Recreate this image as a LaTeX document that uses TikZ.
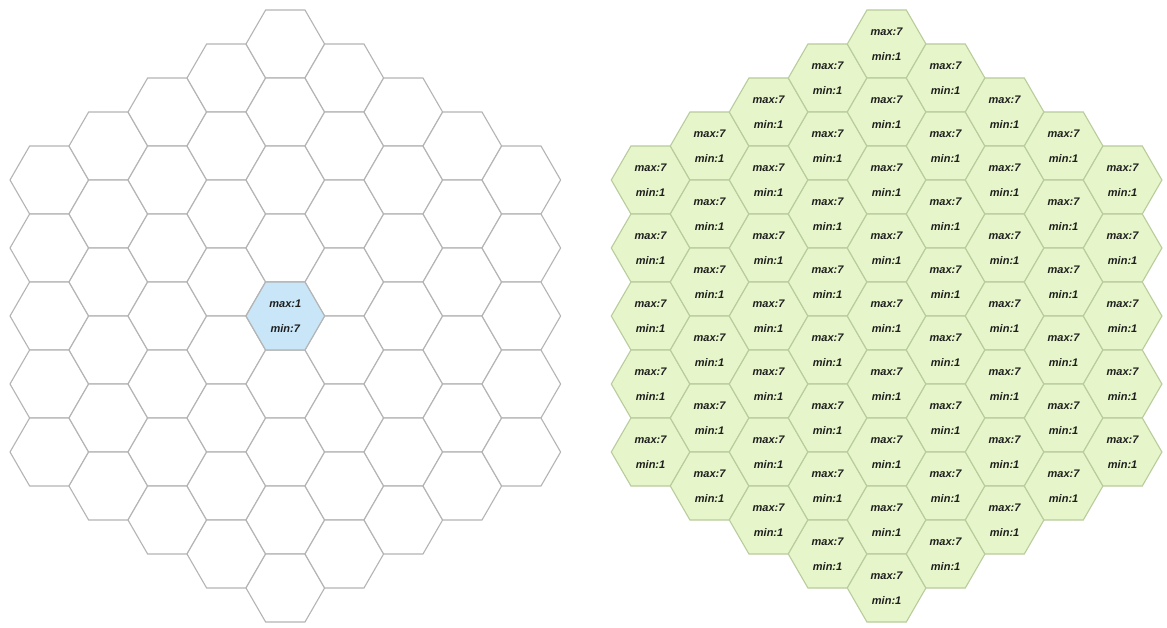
\documentclass[tikz,border=0pt]{standalone}
\usepackage{fontspec}
\setmainfont{Liberation Sans}
\usetikzlibrary{shapes.geometric}
\definecolor{gridgray}{HTML}{B4B4B4}
\definecolor{hexblue}{HTML}{C8E6F8}
\definecolor{hexgreen}{HTML}{E6F6CA}
\definecolor{greenline}{HTML}{B8CC9C}
\definecolor{txt}{HTML}{1E1E1E}
\tikzset{
 hexcell/.style={regular polygon, regular polygon sides=6, minimum size=78.6pt, inner sep=0pt, line width=1.1pt, align=center, font=\fontsize{11}{25.4}\selectfont\bfseries\itshape, text=txt},
 emptycell/.style={hexcell, draw=gridgray, fill=white},
 bluecell/.style={hexcell, draw=gridgray, fill=hexblue},
 greencell/.style={hexcell, draw=greenline, fill=hexgreen},
}
\begin{document}
\begin{tikzpicture}[x=1pt,y=-1pt]
\useasboundingbox (0,0) rectangle (1167,628);
\fill[white] (0,0) rectangle (1167,628);
\foreach \k in {-4,...,4}{
  \pgfmathtruncatemacro{\n}{8-abs(\k)}
  \foreach \j in {0,...,\n}{
    \pgfmathsetmacro{\cx}{285.3+59*\k}
    \pgfmathsetmacro{\cy}{316-34*\n+68*\j}
    \node[emptycell] (L\k-\j) at (\cx,\cy) {};
    \node[greencell] (R\k-\j) at (\cx+601.3,\cy) {max:7\\min:1};
  }
}
\node[bluecell] (Lc) at (285.3,316) {max:1\\min:7};
\end{tikzpicture}
\end{document}
